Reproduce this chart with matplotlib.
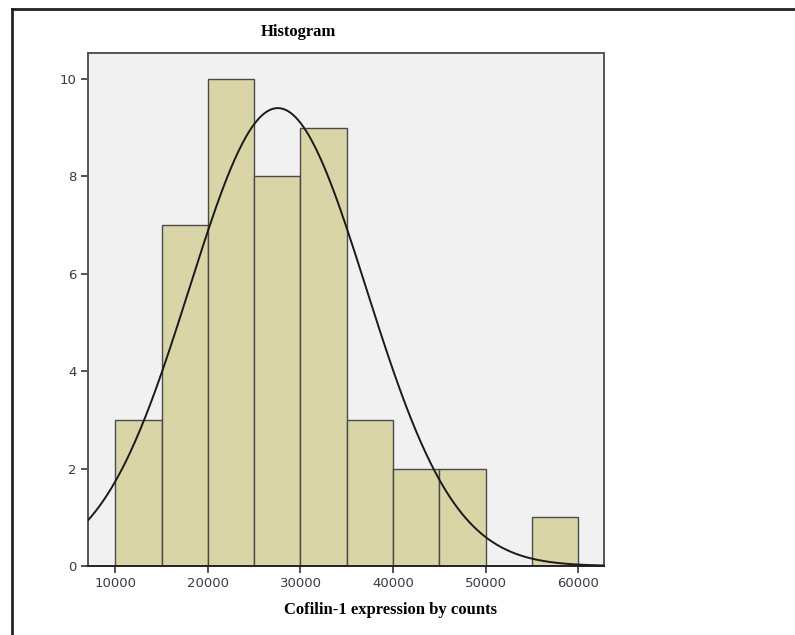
import numpy as np
import matplotlib.pyplot as plt
from matplotlib.lines import Line2D

# histogram data (bin edges and counts)
bin_edges = [10000, 15000, 20000, 25000, 30000, 35000, 40000, 45000, 50000, 55000, 60000]
counts = [3, 7, 10, 8, 9, 3, 2, 2, 0, 1]
x_ticks = [10000, 20000, 30000, 40000, 50000, 60000]
y_ticks = [0, 2, 4, 6, 8, 10]

# normal curve parameters (SPSS fit)
n_total = 45
fit_mean = 27550
fit_sd = 9550

bar_color = '#d9d5a7'
bg_color = '#f1f1f1'
serif = ['Liberation Serif', 'DejaVu Serif']

fig = plt.figure(figsize=(7.95, 6.35), dpi=100)
fig.patch.set_facecolor('white')
ax = fig.add_axes([88 / 795, 1 - 566 / 635, 516 / 795, 513 / 635])
ax.set_facecolor(bg_color)

lefts = np.array(bin_edges[:-1])
widths = np.diff(bin_edges)
ax.bar(lefts, counts, width=widths, align='edge', color=bar_color,
       edgecolor='#4a4a4a', linewidth=1.0, zorder=2)

# fitted normal curve
xs = np.linspace(7000, 63000, 400)
bw = widths[0]
ys = n_total * bw / (fit_sd * np.sqrt(2 * np.pi)) * np.exp(-0.5 * ((xs - fit_mean) / fit_sd) ** 2)
ax.plot(xs, ys, color='#1a1a1a', linewidth=1.4, zorder=3)

ax.set_xlim(7050, 62780)
ax.set_ylim(0, 10.53)
ax.set_xticks(x_ticks)
ax.set_yticks(y_ticks)
ax.tick_params(direction='out', length=5, width=1.2, color='#333333',
               labelsize=9.5, labelcolor='#3a3a48', pad=3)
for s in ax.spines.values():
    s.set_color('#555555')
    s.set_linewidth(1.4)
ax.spines['bottom'].set_color('#222222')

fig.text(298 / 795, 1 - 32 / 635, 'Histogram', ha='center', va='center',
         fontsize=12, fontweight='bold', family=serif)
fig.text(390 / 795, 1 - 610 / 635, 'Cofilin-1 expression by counts', ha='center',
         va='center', fontsize=12, fontweight='bold', family=serif)

# page frame around the figure (left and top edges)
fig.add_artist(Line2D([12 / 795, 12 / 795], [0, 1 - 9 / 635], transform=fig.transFigure,
                      color='#222222', linewidth=2))
fig.add_artist(Line2D([12 / 795, 1], [1 - 9 / 635, 1 - 9 / 635], transform=fig.transFigure,
                      color='#222222', linewidth=2))

fig.savefig('out.png', dpi=100)
